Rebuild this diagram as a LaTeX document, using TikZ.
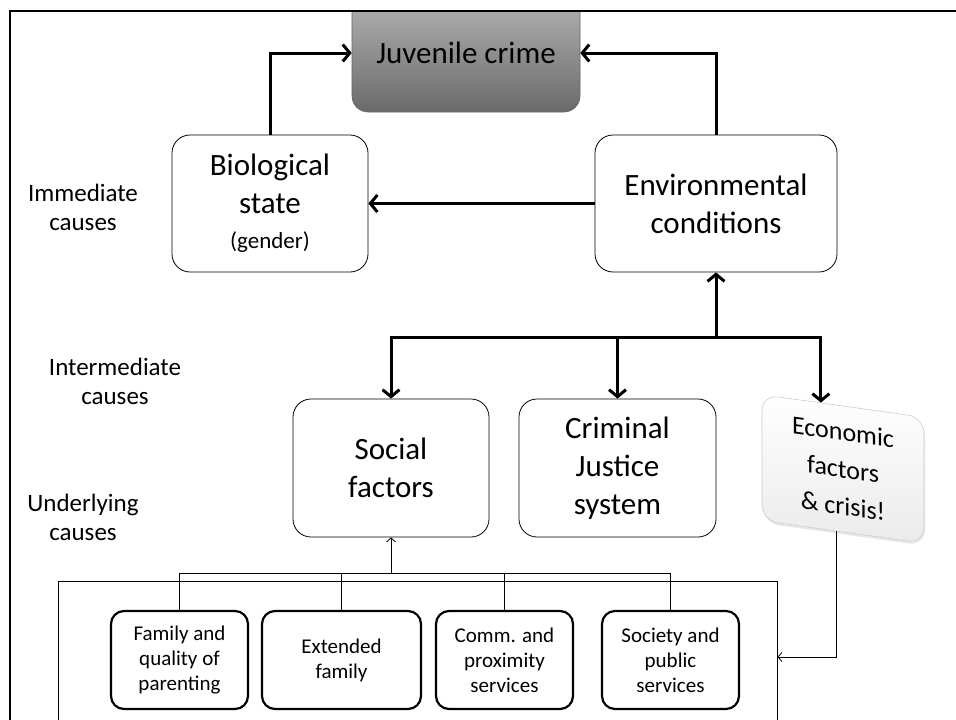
\documentclass[tikz,border=0pt]{standalone}
\usepackage{fontspec}
\setmainfont{Carlito}
\usetikzlibrary{arrows.meta,calc,shadows}
\definecolor{jtop}{HTML}{B4B4B4}
\definecolor{jbot}{HTML}{6A6A6A}

\begin{document}
\begin{tikzpicture}[x=1pt,y=-1pt,
  box/.style={draw,rounded corners=18pt,line width=.8pt,fill=white,align=center,inner sep=0pt,font=\fontsize{31}{38}\selectfont},
  root/.style={draw=black!60,line width=.6pt,rounded corners=16pt,top color=jtop,bottom color=jbot,inner sep=0pt,font=\fontsize{31}{38}\selectfont},
  econ/.style={draw=black!20,line width=.6pt,rounded corners=16pt,top color=white,bottom color=black!8,align=center,inner sep=0pt,
    font=\fontsize{26}{37}\selectfont,drop shadow={opacity=.18,shadow xshift=1pt,shadow yshift=-2.5pt}},
  sub/.style={draw,rounded corners=13pt,line width=2.2pt,fill=white,align=center,inner sep=0pt,minimum height=98pt,font=\fontsize{21}{25}\selectfont},
  level/.style={align=center,font=\fontsize{25}{29}\selectfont},
  big/.style={line width=3pt,-{Straight Barb[length=7pt,width=17pt]}},
  small/.style={line width=.8pt,-{Straight Barb[length=4pt,width=9pt]}}]
\useasboundingbox (0,0) rectangle (956,720);
\node[root,minimum width=228pt,minimum height=118pt] (jc) at (466,53) {Juvenile crime};
\fill[white] (0,0) rectangle (956,10);
\draw[line width=2pt] (10,720) -- (10,11) -- (956,11);
\node[box,minimum width=196pt,minimum height=137pt] (bio) at (270,203.5) {Biological\\state\\[-3pt]{\fontsize{23}{28}\selectfont(gender)}};
\node[box,minimum width=242pt,minimum height=137pt] (env) at (716,203.5) {Environmental\\conditions};
\node[box,minimum width=196pt,minimum height=138pt] (soc) at (391,468) {Social\\factors};
\node[box,minimum width=197pt,minimum height=138pt] (cjs) at (617.5,468) {Criminal\\Justice\\system};
\node[econ,minimum width=162pt,minimum height=126pt,yslant=-.14] (eco) at (843,469) {Economic\\factors\\\&~crisis!};
\node[level] (imm) at (83,207) {Immediate\\causes};
\node[level] (int) at (115,381) {Intermediate\\causes};
\node[level] (und) at (83,517) {Underlying\\causes};
\node[draw,line width=.8pt,minimum width=719pt,minimum height=152pt,inner sep=0pt] (grp) at (417.5,657) {};
\node[sub,minimum width=137pt] (fam) at (179.5,660) {Family and\\quality of\\parenting};
\node[sub,minimum width=159pt] (ext) at (341.5,660) {Extended\\family};
\node[sub,minimum width=137pt] (com) at (504.5,660) {Comm. and\\proximity\\services};
\node[sub,minimum width=137pt] (pub) at (670.5,660) {Society and\\public\\services};
\draw[big] (bio.north) |- (jc.west);
\draw[big] (env.north) |- (jc.east);
\draw[big] (env.west) -- (bio.east);
\coordinate (hub) at ([yshift=-65pt]env.south);
\coordinate (ecotop) at ($(eco.north west)!.364!(eco.north east)$);
\coordinate (ecobot) at ($(eco.south west)!.46!(eco.south east)$);
\draw[big] (hub) -- (env.south);
\draw[big] (hub) -| (soc.north);
\draw[big] (hub) -| (cjs.north);
\draw[big] (hub) -| (ecotop);
\coordinate (sbus) at ([yshift=-36pt]soc.south);
\draw[small] (sbus) -- (soc.south);
\draw[line width=.8pt] (fam.north) |- (sbus) -| (pub.north);
\draw[line width=.8pt] (ext.north) -- (ext.north |- sbus);
\draw[line width=.8pt] (com.north) -- (com.north |- sbus);
\draw[small] (ecobot) |- (grp.east);
\end{tikzpicture}
\end{document}
